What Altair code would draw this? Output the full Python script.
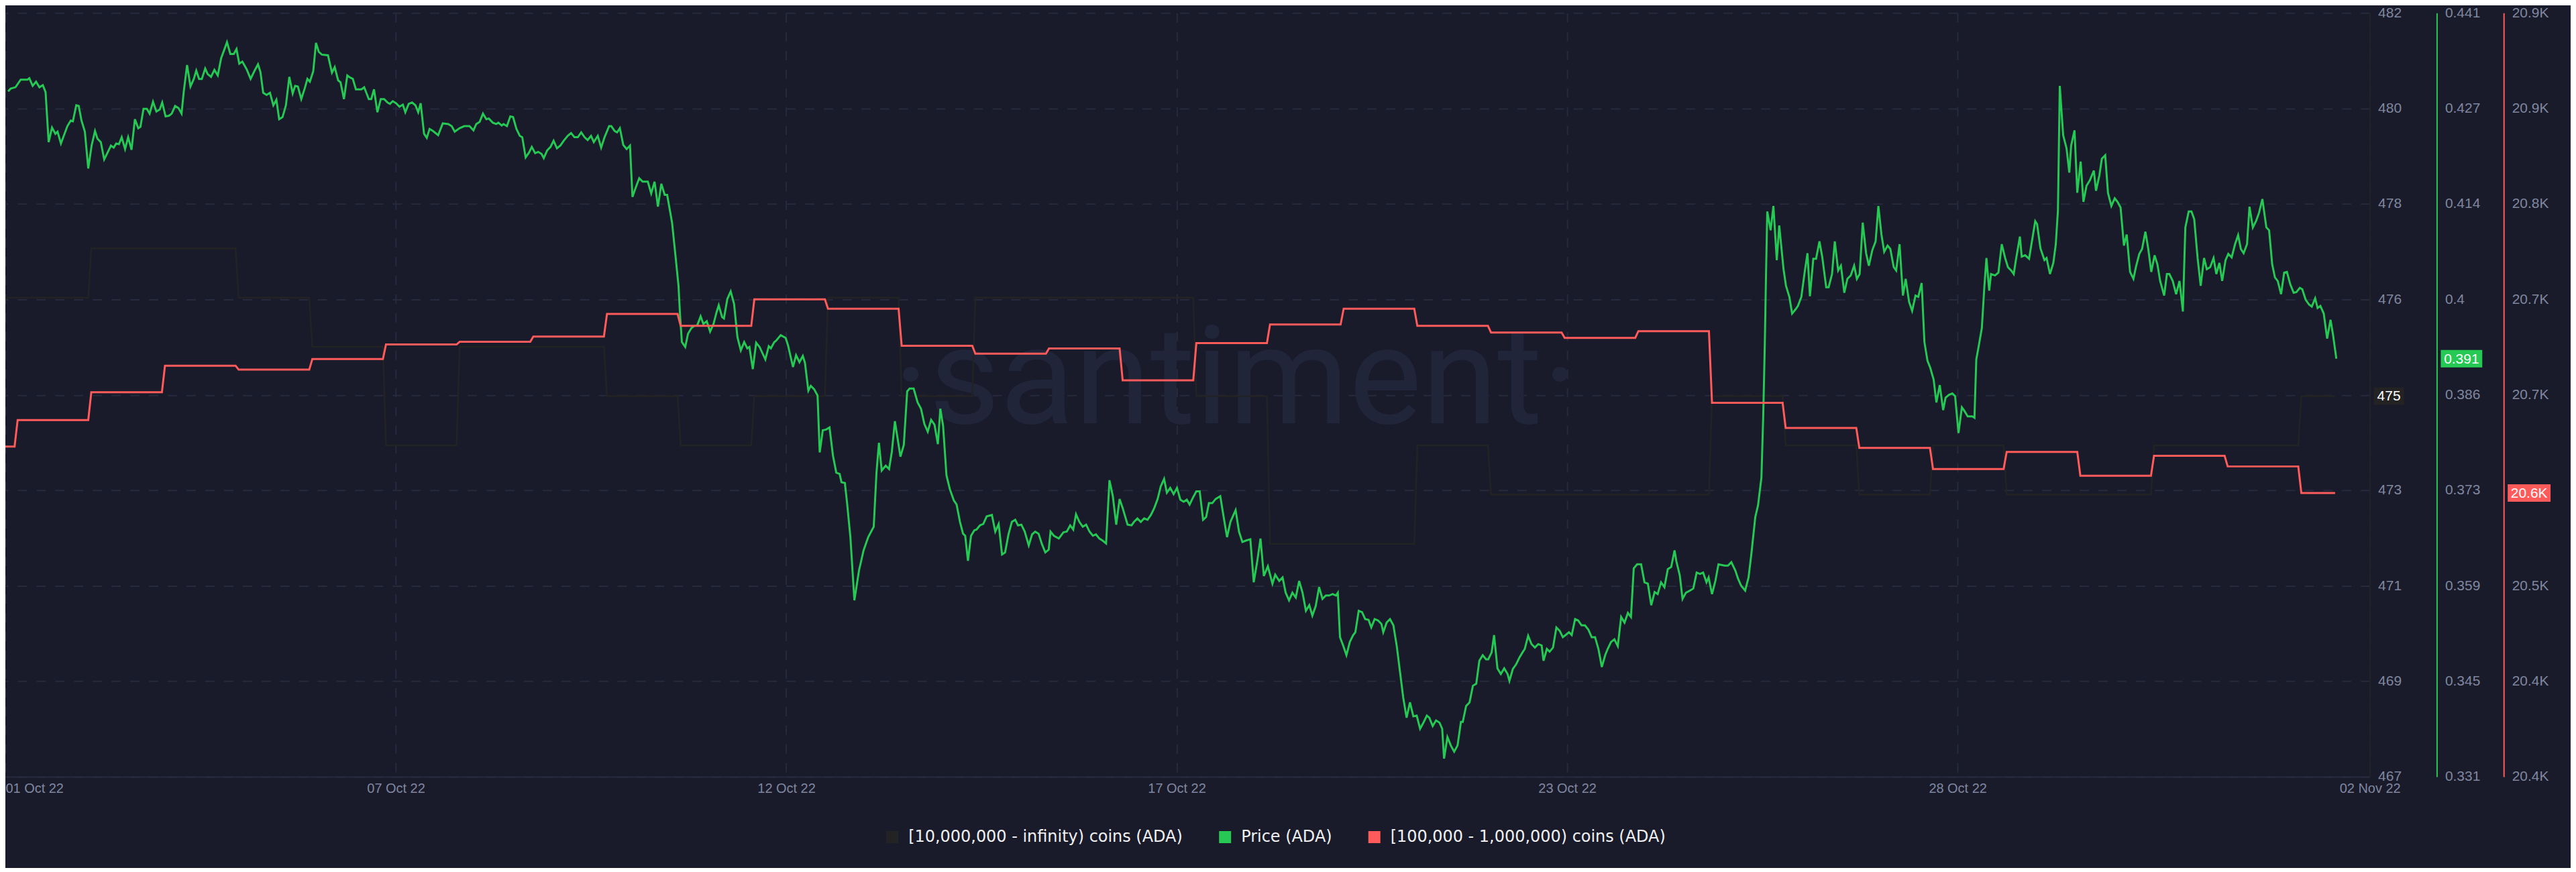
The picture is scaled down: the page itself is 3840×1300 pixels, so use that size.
import altair as alt
import pandas as pd

# ---------------- colours / styling ----------------
BG = "#191b2b"
GRID = "#262a3c"
AXIS_LINE = "#262a3c"
LABEL = "#80879f"
DARK = "#232323"
GREEN = "#26c953"
RED = "#ff5b5b"
WATERMARK_COLOR = "#21253a"
FONT = "Liberation Sans"

# ---------------- data ----------------
S_WHALE = "[10,000,000 - infinity) coins (ADA)"
S_PRICE = "Price (ADA)"
S_RED = "[100,000  - 1,000,000) coins (ADA)"
SERIES = [S_WHALE, S_PRICE, S_RED]
SERIES_COLORS = [DARK, GREEN, RED]
WATERMARK = "\u00b7santiment\u00b7"

START = "2022-10-01 20:00:00"          # first hourly sample (UTC)
N_HOURS = 760                          # hourly samples of the daily series
X_END_HOURS = 770.3                    # right end of time axis (hours after START)
X_TICK_HOURS = [0, 127.2, 254.4, 381.6, 508.8, 636.0, 770.3]

# daily values, 01 Oct .. 02 Nov
WHALE_DAILY = [477, 477, 478, 478, 477, 476, 474, 476, 476, 475, 474, 475, 477, 475,
               477, 477, 477, 475, 472, 472, 474, 473, 473, 473, 475, 474, 473, 474,
               473, 473, 474, 474, 475]
RED_DAILY = [20617, 20637, 20658, 20678, 20675, 20683, 20694, 20696, 20700, 20717,
             20708, 20728, 20721, 20693, 20687, 20691, 20667, 20695, 20709, 20721,
             20708, 20703, 20699, 20704, 20650, 20631, 20616, 20600, 20613, 20595,
             20610, 20602, 20582]

# price (hours after START, USD)
PRICE_POINTS = [
(0.9,0.4297),(1.7,0.4301),(3.3,0.4303),(5.0,0.4314),(7.2,0.4314),(7.8,0.4316),(8.9,0.4305),(10.0,0.4311),(11.1,0.4303),(12.2,0.4306),(13.1,0.4296),(14.1,0.4224),(15.2,0.4245),(16.3,0.4236),(17.0,0.4239),(18.1,0.4222),(20.2,0.4247),(21.3,0.4255),(22.0,0.4254),(23.1,0.4277),(23.9,0.4276),(24.8,0.4255),(25.9,0.4239),(27.0,0.4186),(28.1,0.4219),(29.2,0.4240),(30.0,0.4229),(31.1,0.4224),(32.2,0.4199),(33.1,0.4207),(34.4,0.4219),(35.3,0.4216),(36.1,0.4222),(37.0,0.4221),(37.9,0.4231),(39.0,0.4214),(40.0,0.4231),(41.1,0.4213),(42.2,0.4257),(43.3,0.4244),(44.0,0.4246),(45.0,0.4272),(46.1,0.4272),(47.0,0.4265),(48.1,0.4282),(49.2,0.4268),(50.3,0.4271),(51.1,0.4281),(52.2,0.4261),(53.3,0.4262),(54.2,0.4265),(55.3,0.4276),(56.4,0.4273),(57.4,0.4265),(58.1,0.4296),(59.2,0.4335),(60.3,0.4304),(61.4,0.4315),(62.2,0.4327),(63.1,0.4315),(64.0,0.4315),(65.1,0.4330),(65.9,0.4322),(67.0,0.4318),(68.1,0.4328),(69.2,0.4320),(70.3,0.4345),(71.4,0.4358),(72.2,0.4368),(73.3,0.4351),(74.4,0.4351),(75.3,0.4358),(76.2,0.4337),(77.2,0.4340),(78.6,0.4329),(79.9,0.4315),
(81.2,0.4327),(82.3,0.4336),(83.1,0.4325),(84.0,0.4295),(85.1,0.4292),(86.2,0.4295),(87.3,0.4277),(88.3,0.4285),(89.2,0.4257),(90.3,0.4260),(91.4,0.4277),(92.5,0.4318),(93.6,0.4294),(94.4,0.4305),(95.3,0.4304),(96.4,0.4286),(97.5,0.4301),(98.4,0.4315),(99.2,0.4311),(100.3,0.4326),(101.2,0.4367),(102.1,0.4354),(103.1,0.4350),(105.1,0.4349),(106.4,0.4324),(107.3,0.4332),(108.4,0.4313),(109.2,0.4310),(110.3,0.4286),(111.4,0.4320),(112.3,0.4317),(113.2,0.4315),(114.2,0.4300),(116.0,0.4300),(116.9,0.4303),(118.4,0.4286),(119.2,0.4286),(120.1,0.4300),(121.2,0.4267),(122.3,0.4286),(123.4,0.4286),(124.5,0.4281),(125.3,0.4279),(126.2,0.4283),(127.3,0.4280),(128.4,0.4275),(129.5,0.4278),(130.3,0.4267),(131.4,0.4279),(132.5,0.4281),(133.6,0.4277),(134.5,0.4267),(135.3,0.4280),(136.4,0.4236),(137.3,0.4230),(138.2,0.4243),(139.3,0.4240),(141.0,0.4234),(142.5,0.4251),(144.3,0.4250),(145.4,0.4247),(146.4,0.4239),(148.0,0.4244),(149.5,0.4247),(151.2,0.4247),(152.5,0.4241),(153.4,0.4250),(154.5,0.4253),(155.6,0.4265),(156.7,0.4257),(157.5,0.4258),(158.8,0.4252),(159.9,0.4250),
(160.6,0.4252),(161.7,0.4248),(162.3,0.4250),(163.4,0.4247),(164.5,0.4261),(165.4,0.4260),(166.5,0.4243),(167.6,0.4233),(168.4,0.4231),(169.5,0.4202),(170.6,0.4209),(171.5,0.4217),(172.6,0.4208),(173.6,0.4210),(174.7,0.4207),(175.4,0.4201),(176.5,0.4212),(177.6,0.4217),(178.6,0.4226),(179.7,0.4215),(180.8,0.4219),(181.9,0.4226),(183.2,0.4233),(184.3,0.4237),(185.4,0.4231),(186.5,0.4231),(187.6,0.4238),(188.7,0.4231),(189.7,0.4227),(190.8,0.4233),(191.7,0.4224),(193.0,0.4233),(194.1,0.4216),(195.2,0.4231),(196.7,0.4247),(197.4,0.4247),(198.5,0.4240),(199.3,0.4238),(200.2,0.4244),(201.3,0.4220),(202.4,0.4214),(203.5,0.4219),(204.3,0.4145),(205.4,0.4159),(206.5,0.4172),(207.6,0.4167),(209.3,0.4167),(210.4,0.4150),(211.5,0.4167),(212.6,0.4131),(213.7,0.4164),(214.8,0.4148),(215.6,0.4148),(217.2,0.4108),(218.3,0.4061),(219.3,0.4017),(219.8,0.3975),(220.4,0.3936),(221.5,0.3929),(222.4,0.3948),(223.5,0.3956),(224.3,0.3959),(225.4,0.3960),(226.5,0.3973),(227.4,0.3962),(228.5,0.3966),(229.6,0.3951),(230.7,0.3962),(231.7,0.3979),(232.4,0.3989),(233.5,0.3972),(234.1,0.3970),(235.2,0.3998),(236.3,0.4009),(237.4,0.3991),(238.5,0.3943),(239.6,0.3924),
(240.7,0.3936),(241.7,0.3927),(242.4,0.3929),(243.5,0.3897),(244.6,0.3935),(245.7,0.3929),(247.6,0.3911),(248.7,0.3930),(249.4,0.3927),(250.5,0.3936),(251.1,0.3938),(252.6,0.3946),(254.2,0.3942),(255.0,0.3931),(256.6,0.3900),(257.6,0.3917),(258.7,0.3907),(259.8,0.3916),(260.5,0.3906),(261.6,0.3866),(262.4,0.3873),(263.5,0.3868),(264.6,0.3859),(265.3,0.3777),(266.3,0.3809),(267.4,0.3810),(268.5,0.3813),(269.6,0.3773),(270.7,0.3748),(271.8,0.3746),(272.4,0.3734),(273.5,0.3733),(274.2,0.3705),(275.3,0.3655),(276.6,0.3564),(278.1,0.3607),(279.6,0.3636),(281.1,0.3655),(282.9,0.3670),(283.8,0.3748),(284.6,0.3791),(285.5,0.3751),(286.8,0.3758),(287.9,0.3753),(288.8,0.3778),(289.8,0.3822),(291.6,0.3771),(292.7,0.3788),(293.8,0.3865),(294.6,0.3869),(295.9,0.3869),(297.2,0.3849),(298.3,0.3840),(299.4,0.3818),(300.5,0.3807),(301.6,0.3824),(302.7,0.3817),(303.8,0.3789),(304.6,0.3840),(305.5,0.3815),(306.6,0.3744),(307.7,0.3724),(309.0,0.3708),(309.9,0.3702),(311.0,0.3677),(312.0,0.3660),(312.7,0.3657),(313.6,0.3621),(314.6,0.3657),(315.7,0.3665),(316.4,0.3666),(317.5,0.3672),(318.6,0.3674),(319.7,0.3685),(321.4,0.3687),(322.5,0.3663),(323.6,0.3674),(324.7,0.3630),(325.7,0.3633),(326.8,0.3659),(327.9,0.3677),
(329.0,0.3680),(329.9,0.3672),(331.0,0.3673),(332.1,0.3663),(333.4,0.3643),(334.5,0.3659),(335.5,0.3663),(336.6,0.3660),(337.7,0.3645),(338.8,0.3633),(339.9,0.3637),(340.5,0.3663),(341.6,0.3657),(343.2,0.3653),(344.7,0.3662),(345.8,0.3663),(346.9,0.3672),(347.9,0.3666),(348.8,0.3688),(349.9,0.3677),(351.0,0.3670),(352.1,0.3673),(353.2,0.3663),(354.3,0.3657),(355.3,0.3659),(356.4,0.3653),(357.5,0.3650),(358.6,0.3646),(359.7,0.3737),(360.8,0.3714),(361.9,0.3673),(363.0,0.3710),(364.0,0.3697),(365.6,0.3673),(366.9,0.3672),(367.7,0.3677),(368.8,0.3682),(369.9,0.3677),(371.0,0.3682),(372.1,0.3680),(373.2,0.3687),(374.3,0.3697),(375.4,0.3710),(376.4,0.3728),(377.5,0.3739),(378.4,0.3719),(379.5,0.3726),(380.6,0.3717),(381.7,0.3726),(382.8,0.3709),(383.9,0.3706),(384.9,0.3709),(385.8,0.3702),(386.9,0.3712),(388.0,0.3721),(389.1,0.3721),(390.2,0.3680),(391.2,0.3684),(392.1,0.3704),(393.2,0.3704),(394.3,0.3710),(395.8,0.3714),(396.9,0.3684),(398.0,0.3655),(399.1,0.3677),(400.8,0.3694),(401.9,0.3663),(403.0,0.3648),(404.1,0.3650),(405.6,0.3652),(406.7,0.3590),(407.8,0.3619),(408.9,0.3653),(410.0,0.3599),(411.3,0.3613),(412.8,0.3588),(413.7,0.3601),(415.0,0.3592),(416.1,0.3597),
(417.1,0.3575),(418.2,0.3564),(419.3,0.3575),(420.4,0.3568),(421.5,0.3592),(422.6,0.3575),(423.7,0.3549),(424.8,0.3557),(425.8,0.3542),(426.9,0.3556),(428.0,0.3583),(429.1,0.3566),(430.2,0.3571),(431.3,0.3571),(432.4,0.3573),(433.5,0.3571),(434.1,0.3575),(434.8,0.3511),(435.9,0.3498),(436.9,0.3485),(438.0,0.3504),(439.1,0.3514),(439.8,0.3518),(440.9,0.3549),(442.0,0.3547),(443.0,0.3537),(444.1,0.3536),(445.0,0.3525),(446.1,0.3537),(447.2,0.3535),(448.3,0.3530),(448.9,0.3518),(450.0,0.3532),(451.1,0.3537),(452.2,0.3528),(453.3,0.3498),(454.3,0.3463),(455.4,0.3424),(456.5,0.3395),(457.6,0.3417),(458.7,0.3397),(459.8,0.3398),(460.9,0.3379),(462.0,0.3388),(463.1,0.3398),(463.9,0.3395),(465.0,0.3383),(466.1,0.3391),(467.2,0.3388),(468.1,0.3379),(468.7,0.3336),(469.8,0.3367),(470.9,0.3355),(472.0,0.3346),(473.1,0.3355),(474.2,0.3389),(474.8,0.3389),(475.9,0.3412),(477.0,0.3417),(478.1,0.3441),(479.2,0.3444),(480.2,0.3477),(481.3,0.3485),(482.4,0.3479),(483.1,0.3479),(484.2,0.3489),(485.0,0.3514),(486.1,0.3466),(487.2,0.3458),(488.3,0.3466),(489.4,0.3458),(490.0,0.3448),(491.1,0.3465),(492.2,0.3472),(493.3,0.3482),(494.4,0.3490),(495.0,0.3494),(496.1,0.3513),(497.2,0.3501),(498.3,0.3496),(499.4,0.3501),(500.5,0.3499),
(501.1,0.3477),(502.2,0.3494),(503.1,0.3490),(504.2,0.3496),(505.3,0.3525),(506.4,0.3520),(507.4,0.3511),(508.3,0.3514),(509.4,0.3518),(510.3,0.3514),(511.4,0.3537),(512.4,0.3535),(513.5,0.3528),(514.6,0.3528),(515.7,0.3522),(516.8,0.3511),(517.9,0.3511),(519.0,0.3494),(520.1,0.3468),(521.2,0.3485),(522.0,0.3494),(523.1,0.3504),(524.2,0.3508),(525.3,0.3498),(526.4,0.3540),(527.5,0.3532),(528.6,0.3546),(529.6,0.3540),(530.5,0.3610),(531.6,0.3616),(532.9,0.3616),(534.0,0.3590),(535.1,0.3588),(536.2,0.3557),(537.3,0.3576),(538.3,0.3573),(539.4,0.3590),(540.5,0.3583),(541.6,0.3609),(542.7,0.3612),(543.8,0.3636),(544.4,0.3620),(545.5,0.3600),(546.4,0.3566),(547.5,0.3575),(548.8,0.3578),(549.9,0.3581),(551.0,0.3604),(552.1,0.3602),(553.1,0.3604),(554.2,0.3590),(554.9,0.3597),(556.0,0.3573),(557.1,0.3592),(558.1,0.3616),(560.1,0.3614),(561.2,0.3614),(562.3,0.3619),(563.6,0.3607),(564.5,0.3595),(565.5,0.3585),(566.8,0.3578),(567.9,0.3597),(568.8,0.3630),(570.1,0.3684),(571.0,0.3701),(572.1,0.3741),(572.7,0.3832),(573.2,0.3933),(573.6,0.4034),(574.0,0.4124),(575.1,0.4097),(576.0,0.4132),(577.1,0.4054),(577.9,0.4104),(579.3,0.4041),(580.1,0.4017),(581.2,0.4001),(582.1,0.3977),(583.2,0.3983),(584.0,0.3988),
(585.1,0.4001),(586.2,0.4037),(587.1,0.4064),(587.9,0.4002),(589.0,0.4056),(589.9,0.4056),(591.0,0.4081),(591.9,0.4059),(593.2,0.4015),(594.0,0.4015),(595.1,0.4034),(596.0,0.4081),(597.1,0.4039),(598.0,0.4046),(599.1,0.4007),(600.1,0.4027),(601.2,0.4032),(602.3,0.4046),(603.2,0.4027),(604.1,0.4034),(605.1,0.4108),(606.2,0.4064),(607.1,0.4046),(608.2,0.4068),(609.3,0.4081),(610.2,0.4132),(611.2,0.4091),(612.1,0.4066),(613.2,0.4075),(614.1,0.4070),(615.2,0.4044),(616.0,0.4039),(617.1,0.4077),(618.2,0.4003),(619.1,0.4027),(620.2,0.3994),(621.2,0.3981),(622.3,0.4003),(623.2,0.4001),(624.3,0.4021),(625.2,0.3936),(626.2,0.3909),(627.1,0.3899),(628.2,0.3882),(629.1,0.3849),(630.2,0.3874),(631.3,0.3838),(632.1,0.3856),(633.2,0.3860),(634.3,0.3862),(635.2,0.3858),(636.3,0.3805),(637.4,0.3842),(638.2,0.3837),(639.3,0.3829),(640.8,0.3829),(641.5,0.3827),(642.1,0.3911),(642.8,0.3928),(643.9,0.3956),(644.7,0.4014),(645.4,0.4057),(646.3,0.4010),(646.9,0.4034),(648.2,0.4032),(649.3,0.4036),(650.4,0.4077),(651.5,0.4057),(652.4,0.4044),(653.5,0.4039),(654.3,0.4034),(655.0,0.4054),(656.3,0.4088),(656.9,0.4059),(658.0,0.4061),(659.3,0.4056),(660.0,0.4075),(661.3,0.4110),(661.9,0.4106),(663.0,0.4071),(664.3,0.4054),(665.0,0.4057),(666.1,0.4034),(667.2,0.4050),(668.0,0.4077),(668.7,0.4126),
(669.3,0.4305),(670.4,0.4234),(671.5,0.4215),(672.4,0.4180),(673.0,0.4219),(674.1,0.4241),(675.0,0.4151),(676.1,0.4196),(677.0,0.4138),(678.0,0.4161),(679.1,0.4169),(680.4,0.4183),(681.1,0.4154),(682.2,0.4176),(683.0,0.4200),(684.1,0.4205),(685.0,0.4151),(686.1,0.4132),(687.2,0.4143),(688.1,0.4138),(689.1,0.4130),(690.2,0.4075),(691.1,0.4091),(692.2,0.4037),(693.3,0.4027),(694.1,0.4044),(695.2,0.4063),(696.1,0.4070),(697.2,0.4095),(698.1,0.4071),(699.1,0.4037),(700.2,0.4061),(701.1,0.4048),(702.0,0.4024),(703.3,0.4003),(704.2,0.4034),(705.0,0.4034),(706.1,0.4024),(707.2,0.4005),(708.3,0.4024),(709.4,0.3980),(710.2,0.4101),(711.3,0.4124),(712.2,0.4124),(713.1,0.4113),(714.2,0.4057),(715.2,0.4017),(716.3,0.4057),(717.2,0.4041),(718.3,0.4044),(719.4,0.4057),(720.3,0.4034),(721.3,0.4050),(722.2,0.4024),(723.3,0.4054),(724.2,0.4063),(725.3,0.4058),(726.4,0.4077),(727.4,0.4090),(728.3,0.4070),(729.2,0.4064),(730.3,0.4077),(731.1,0.4131),(732.2,0.4101),(733.3,0.4111),(734.2,0.4122),(735.3,0.4142),(736.6,0.4101),(737.5,0.4097),(738.5,0.4048),(739.4,0.4029),(740.3,0.4024),(741.4,0.4005),(742.4,0.4036),(743.3,0.4037),(744.4,0.4019),(745.5,0.4007),(746.4,0.4008),(747.5,0.4014),(748.3,0.4012),(749.4,0.3997),(750.5,0.3990),(751.4,0.3987),(752.5,0.3999),(753.3,0.3985),(754.2,0.3988),(755.3,0.3977),(756.4,0.3941),(757.5,0.3968),(758.3,0.3947),(759.4,0.3912),
]

# axis domains and tick labels (9 evenly spaced ticks per axis)
WHALE_DOMAIN = [467.27, 482.78]
PRICE_DOMAIN = [0.331, 0.441]
PRICE_TICK_LABELS = ["0.331", "0.345", "0.359", "0.373", "0.386", "0.4", "0.414", "0.427", "0.441"]
RED_DOMAIN = [20368, 20944]
RED_TICK_LABELS = ["20.4K", "20.4K", "20.5K", "20.6K", "20.7K", "20.7K", "20.8K", "20.9K", "20.9K"]

# ---------------- layout ----------------
W, H = 3532, 1141
PAD_TOP = 10

# ---------------- build tables ----------------
HOUR_MS = 3600 * 1000
t0 = pd.Timestamp(START, tz="UTC")
t0_ms = int(t0.timestamp() * 1000)


def ticks_for(domain):
    lo, hi = domain
    step = (hi - lo) / 8
    vals = [lo + k * step for k in range(9)]
    vals[0] = lo + step * 1e-6
    vals[-1] = hi - step * 1e-6
    return vals


hourly = []
for n in range(N_HOURS):
    t = t0 + pd.Timedelta(hours=n)
    d = (t.normalize() - t0.normalize()).days
    hourly.append({"t": t0_ms + n * HOUR_MS, "whale": WHALE_DAILY[d], "red": RED_DAILY[d]})
hourly = pd.DataFrame(hourly)

df_whale = pd.DataFrame({"t": hourly["t"], "value": hourly["whale"], "series": S_WHALE})
df_red = pd.DataFrame({"t": hourly["t"], "value": hourly["red"], "series": S_RED})
df_price = pd.DataFrame({
    "t": [t0_ms + h * HOUR_MS for h, _ in PRICE_POINTS],
    "value": [v for _, v in PRICE_POINTS],
    "series": S_PRICE,
})

last_whale = pd.DataFrame({"value": [WHALE_DAILY[-1]], "label": [str(WHALE_DAILY[-1])]})
last_price = pd.DataFrame({"value": [PRICE_POINTS[-1][1]], "label": [f"{PRICE_POINTS[-1][1]:.3f}"]})
last_red = pd.DataFrame({"value": [RED_DAILY[-1]], "label": [f"{RED_DAILY[-1] / 1000:.1f}K"]})

# ---------------- encodings ----------------
color_scale = alt.Scale(domain=SERIES, range=SERIES_COLORS)
legend = alt.Legend(
    title=None, orient="none", legendX=1313, legendY=1219, direction="horizontal",
    symbolType="square", symbolSize=81, symbolStrokeWidth=9,
    labelFont="DejaVu Sans", labelFontSize=24, labelColor="#f0f0f0",
    labelOffset=12, columnPadding=40, labelLimit=0,
)

x_axis = alt.Axis(
    values=[t0_ms + h * HOUR_MS for h in X_TICK_HOURS], format="%d %b %y",
    title=None, ticks=False, labelFlush=False, labelOverlap=False,
    labelAlign={"condition": {"test": "datum.index == 0", "value": "left"}, "value": "center"},
    domainColor=AXIS_LINE, domainWidth=2,
    grid=True, gridColor=GRID, gridDash=[14, 14], gridWidth=2,
    labelColor=LABEL, labelFont=FONT, labelFontSize=20, labelPadding=8,
)
x_scale = alt.Scale(type="utc", domain=[t0_ms, t0_ms + X_END_HOURS * HOUR_MS])
X_FULL = alt.X("t:T", scale=x_scale, axis=x_axis)
X_PLAIN = alt.X("t:T", scale=x_scale)


def y_axis(offset, domain_color, label_expr, values, grid=False):
    return alt.Axis(
        orient="right", offset=offset, values=values, labelExpr=label_expr,
        title=None, ticks=False, domainColor=domain_color, domainWidth=2,
        grid=grid, gridColor=GRID, gridDash=[14, 14], gridWidth=2,
        labelColor=LABEL, labelFont=FONT, labelFontSize=21, labelPadding=12,
        labelAlign="left", labelOverlap=False, labelBound=False,
    )


def badge(df, domain, color, x_center, width, fs=21):
    h = 26.0
    a = round(h / width, 4)
    shape = f"M-1,-{a}L1,-{a}L1,{a}L-1,{a}Z"
    sc = alt.Scale(domain=domain, zero=False, nice=False)
    box = alt.Chart(df).mark_point(
        shape=shape, size=width * width, filled=True, opacity=1, strokeWidth=0, color=color
    ).encode(x=alt.value(x_center), y=alt.Y("value:Q", scale=sc, axis=None))
    txt = alt.Chart(df).mark_text(
        color="#ffffff", font=FONT, fontSize=fs, align="center", baseline="middle", dy=1
    ).encode(x=alt.value(x_center), y=alt.Y("value:Q", scale=sc, axis=None), text="label:N")
    return [box, txt]


def label_lookup(labels, domain):
    arr = "[" + ",".join(f"'{s}'" for s in labels) + "]"
    step = (domain[1] - domain[0]) / 8
    return f"{arr}[round((datum.value - {domain[0]}) / {step})]"


whale_line = alt.Chart(df_whale).mark_line(strokeWidth=2.5).encode(
    x=X_FULL,
    y=alt.Y("value:Q", scale=alt.Scale(domain=WHALE_DOMAIN, zero=False, nice=False),
            axis=y_axis(0, DARK, "'' + floor(datum.value)", ticks_for(WHALE_DOMAIN), grid=True)),
    color=alt.Color("series:N", scale=color_scale, legend=legend),
)
price_line = alt.Chart(df_price).mark_line(strokeWidth=3).encode(
    x=X_PLAIN,
    y=alt.Y("value:Q", scale=alt.Scale(domain=PRICE_DOMAIN, zero=False, nice=False),
            axis=y_axis(100, GREEN, label_lookup(PRICE_TICK_LABELS, PRICE_DOMAIN), ticks_for(PRICE_DOMAIN))),
    color=alt.Color("series:N", scale=color_scale, legend=legend),
)
red_line = alt.Chart(df_red).mark_line(strokeWidth=3).encode(
    x=X_PLAIN,
    y=alt.Y("value:Q", scale=alt.Scale(domain=RED_DOMAIN, zero=False, nice=False),
            axis=y_axis(200, RED, label_lookup(RED_TICK_LABELS, RED_DOMAIN), ticks_for(RED_DOMAIN))),
    color=alt.Color("series:N", scale=color_scale, legend=legend),
)

badges = (badge(last_whale, WHALE_DOMAIN, DARK, 3560.5, 45)
          + badge(last_price, PRICE_DOMAIN, GREEN, 3669, 62)
          + badge(last_red, RED_DOMAIN, RED, 3770, 64))

watermark = alt.Chart(pd.DataFrame({"txt": [WATERMARK]})).mark_text(
    font="Roboto", fontSize=205, color=WATERMARK_COLOR, align="center", baseline="alphabetic"
).encode(x=alt.value(1838), y=alt.value(613), text="txt:N")

chart = (
    alt.layer(watermark, whale_line, price_line, red_line, *badges)
    .resolve_scale(y="independent")
    .properties(
        width=W, height=H,
        padding={"left": 0, "top": PAD_TOP, "right": 300, "bottom": 135},
        autosize=alt.AutoSizeParams(type="none"),
        background=BG,
    )
    .configure_view(strokeOpacity=0)
)

chart.save("out.html", embed_options={"renderer": "svg", "actions": False})
